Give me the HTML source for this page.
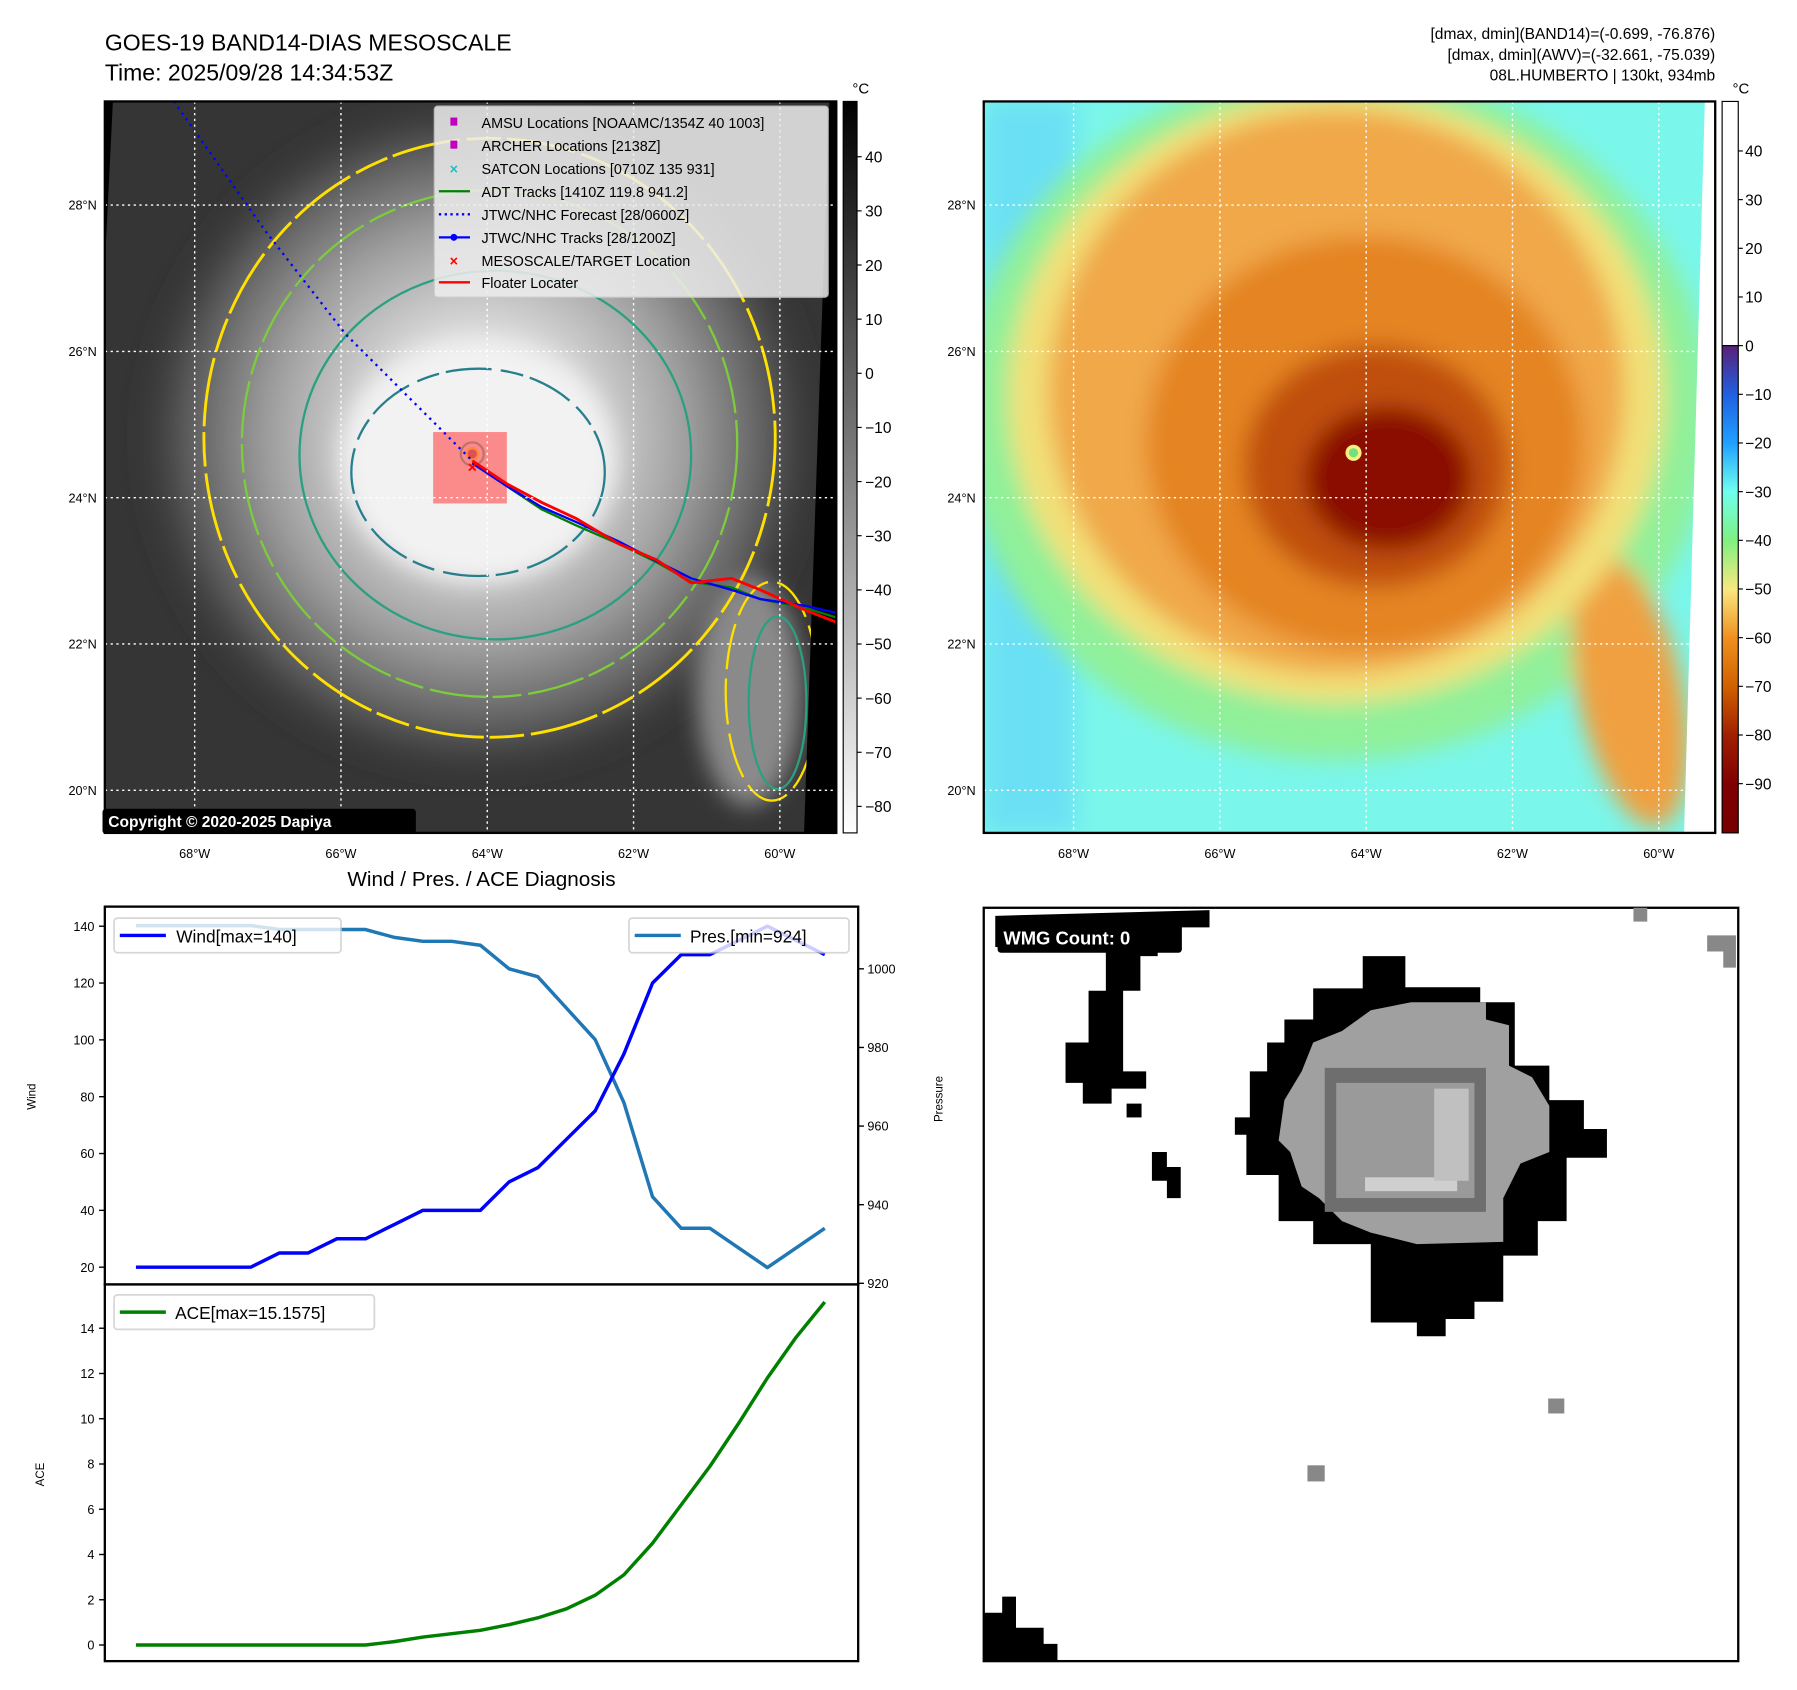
<!DOCTYPE html>
<html><head><meta charset="utf-8"><style>
html,body{margin:0;padding:0;background:#fff;}
svg{display:block;font-family:"Liberation Sans",sans-serif;}
</style></head><body>
<svg id="fig" width="1797" height="1690" viewBox="0 0 1560 1467" xmlns="http://www.w3.org/2000/svg">
<defs>
<filter id="blur8" x="-20%" y="-20%" width="140%" height="140%"><feGaussianBlur stdDeviation="10"/></filter>
<clipPath id="clipL"><rect x="91" y="88" width="635" height="635"/></clipPath>
<clipPath id="clipR"><rect x="854" y="88" width="635" height="635"/></clipPath>
<radialGradient id="cloudG" cx="0.5" cy="0.5" r="0.5">
<stop offset="0" stop-color="#f2f2f2"/><stop offset="0.3" stop-color="#dcdcdc"/><stop offset="0.6" stop-color="#a0a0a0"/><stop offset="0.85" stop-color="#5a5a5a"/><stop offset="1" stop-color="#3a3a3a" stop-opacity="0"/>
</radialGradient>
<linearGradient id="cbGray" x1="0" y1="0" x2="0" y2="1"><stop offset="0" stop-color="#000"/><stop offset="1" stop-color="#fff"/></linearGradient>
<linearGradient id="cbJet" x1="0" y1="0" x2="0" y2="1">
<stop offset="0" stop-color="#5a1f7a"/><stop offset="0.1" stop-color="#2060e0"/><stop offset="0.2" stop-color="#20a0ff"/><stop offset="0.3" stop-color="#70ffee"/><stop offset="0.4" stop-color="#80f080"/><stop offset="0.5" stop-color="#f8e880"/><stop offset="0.6" stop-color="#f09020"/><stop offset="0.7" stop-color="#d06000"/><stop offset="0.8" stop-color="#a02000"/><stop offset="0.9" stop-color="#800000"/><stop offset="1" stop-color="#780000"/>
</linearGradient>
</defs>

<text x="91" y="44" font-size="20">GOES-19 BAND14-DIAS MESOSCALE</text>
<text x="91" y="70" font-size="20">Time: 2025/09/28 14:34:53Z</text>
<g font-size="13.5" text-anchor="end">
<text x="1489" y="34">[dmax, dmin](BAND14)=(-0.699, -76.876)</text>
<text x="1489" y="52">[dmax, dmin](AWV)=(-32.661, -75.039)</text>
<text x="1489" y="70">08L.HUMBERTO | 130kt, 934mb</text>
</g>

<!-- LEFT MAP -->
<g clip-path="url(#clipL)">
<rect x="91" y="88" width="635" height="635" fill="#353535"/>
<ellipse cx="415" cy="380" rx="300" ry="300" fill="url(#cloudG)" filter="url(#blur8)"/>
<ellipse cx="415" cy="400" rx="120" ry="105" fill="#f2f2f2" filter="url(#blur8)"/>
<ellipse cx="650" cy="600" rx="45" ry="100" fill="#8a8a8a" filter="url(#blur8)"/>
<ellipse cx="425" cy="380" rx="248" ry="260" fill="none" stroke="#ffe000" stroke-width="2.5" stroke-dasharray="60 6 30 5"/>
<ellipse cx="425" cy="385" rx="215" ry="220" fill="none" stroke="#7ccc3c" stroke-width="2" stroke-dasharray="50 6 25 5"/>
<ellipse cx="430" cy="395" rx="170" ry="160" fill="none" stroke="#2aa080" stroke-width="2"/>
<ellipse cx="415" cy="410" rx="110" ry="90" fill="none" stroke="#277f8e" stroke-width="2" stroke-dasharray="40 8 20 6"/>
<ellipse cx="670" cy="600" rx="40" ry="95" fill="none" stroke="#ffe000" stroke-width="2" stroke-dasharray="40 8"/>
<ellipse cx="675" cy="610" rx="25" ry="75" fill="none" stroke="#2aa080" stroke-width="2"/>
<polygon points="91,88 98,88 91,230" fill="#000"/>
<polygon points="720,88 726,88 726,723 698,723" fill="#000"/>
<circle cx="410" cy="394" r="10" fill="none" stroke="#2aa080" stroke-width="2"/>
<circle cx="410" cy="394" r="6" fill="#ffe000"/><circle cx="410" cy="394" r="4" fill="#8a3030"/>
<rect x="376" y="375" width="64" height="62" fill="#ff6060" opacity="0.7"/>
<path d="M151,88 L230,200 L300,290 L350,340 L410,400" fill="none" stroke="#0000ff" stroke-width="2" stroke-dasharray="2 4"/>
<polyline points="410,402 440,422 470,442 500,456 537,472 570,488 600,505 635,510 660,520 700,528 726,536" fill="none" stroke="#008000" stroke-width="2"/>
<polyline points="410,402 440,422 470,440 500,453 537,470 570,487 600,502 635,512 660,520 700,526 726,532" fill="none" stroke="#0000ff" stroke-width="2"/>
<polyline points="410,400 440,420 470,436 500,450 537,472 570,486 600,506 635,502 660,512 700,530 726,540" fill="none" stroke="#ff0000" stroke-width="2.5"/>
<text x="410" y="410" fill="#f00" font-size="14" font-weight="bold" text-anchor="middle">×</text>
</g>
<g stroke="#fff" stroke-width="1.2" stroke-dasharray="2 3">
<line x1="169" y1="88" x2="169" y2="723"/><line x1="296" y1="88" x2="296" y2="723"/><line x1="423" y1="88" x2="423" y2="723"/><line x1="550" y1="88" x2="550" y2="723"/><line x1="677" y1="88" x2="677" y2="723"/>
<line x1="91" y1="178" x2="726" y2="178"/><line x1="91" y1="305" x2="726" y2="305"/><line x1="91" y1="432" x2="726" y2="432"/><line x1="91" y1="559" x2="726" y2="559"/><line x1="91" y1="686" x2="726" y2="686"/>
</g>
<rect x="91" y="88" width="635" height="635" fill="none" stroke="#000" stroke-width="2"/>
<g>
<rect x="377" y="92" width="342" height="166" rx="3" fill="#eee" opacity="0.85" stroke="#ccc"/>
<g font-size="12.5">
<rect x="391" y="102" width="6" height="7" fill="#c000c0"/><text x="418" y="111">AMSU Locations [NOAAMC/1354Z 40 1003]</text>
<rect x="391" y="122" width="6" height="7" fill="#c000c0"/><text x="418" y="131">ARCHER Locations [2138Z]</text>
<text x="394" y="151" fill="#20c0c0" text-anchor="middle" font-weight="bold">×</text><text x="418" y="151">SATCON Locations [0710Z 135 931]</text>
<line x1="381" y1="166" x2="408" y2="166" stroke="#008000" stroke-width="2"/><text x="418" y="171">ADT Tracks [1410Z 119.8 941.2]</text>
<line x1="381" y1="186" x2="408" y2="186" stroke="#00f" stroke-width="2" stroke-dasharray="2 3"/><text x="418" y="191">JTWC/NHC Forecast [28/0600Z]</text>
<line x1="381" y1="206" x2="408" y2="206" stroke="#00f" stroke-width="2"/><circle cx="394" cy="206" r="3" fill="#00f"/><text x="418" y="211">JTWC/NHC Tracks [28/1200Z]</text>
<text x="394" y="231" fill="#f00" text-anchor="middle" font-weight="bold">×</text><text x="418" y="231">MESOSCALE/TARGET Location</text>
<line x1="381" y1="245" x2="408" y2="245" stroke="#f00" stroke-width="2"/><text x="418" y="250">Floater Locater</text>
</g></g>
<rect x="89" y="702" width="272" height="22" rx="3" fill="#000"/>
<text x="94" y="718" fill="#fff" font-size="13.5" font-weight="bold">Copyright © 2020-2025 Dapiya</text>
<g font-size="11" text-anchor="end">
<text x="84" y="182">28°N</text><text x="84" y="309">26°N</text><text x="84" y="436">24°N</text><text x="84" y="563">22°N</text><text x="84" y="690">20°N</text></g>
<g font-size="11" text-anchor="middle">
<text x="169" y="745">68°W</text><text x="296" y="745">66°W</text><text x="423" y="745">64°W</text><text x="550" y="745">62°W</text><text x="677" y="745">60°W</text></g>
<rect x="732" y="88" width="12" height="635" fill="url(#cbGray)" stroke="#000"/>
<text x="740" y="81" font-size="13">°C</text>
<g id="cb1" font-size="13.5"></g>

<!-- RIGHT MAP -->
<g clip-path="url(#clipR)">
<rect x="854" y="88" width="635" height="635" fill="#7af6ea"/>
<rect x="854" y="88" width="80" height="635" fill="#6ae0f4" filter="url(#blur8)"/>
<g filter="url(#blur8)">
<ellipse cx="1160" cy="360" rx="325" ry="300" fill="#90f09a"/>
<ellipse cx="1415" cy="600" rx="45" ry="120" fill="#f0a040" transform="rotate(-12 1415 600)"/>
<ellipse cx="1160" cy="345" rx="285" ry="265" fill="#f2e078"/>
<ellipse cx="1160" cy="340" rx="250" ry="245" fill="#f0a84a"/>
<ellipse cx="1185" cy="385" rx="190" ry="180" fill="#e48424"/>
<ellipse cx="1195" cy="405" rx="115" ry="105" fill="#c05008"/>
<ellipse cx="1205" cy="415" rx="72" ry="62" fill="#8a0a00"/>
</g>
<circle cx="1175" cy="393" r="7" fill="#f8f080"/><circle cx="1175" cy="393" r="4" fill="#70e080"/>
<polygon points="1480,88 1489,88 1489,723 1462,723" fill="#fff"/>
</g>
<g stroke="#fff" stroke-width="1.2" stroke-dasharray="2 3">
<line x1="932" y1="88" x2="932" y2="723"/><line x1="1059" y1="88" x2="1059" y2="723"/><line x1="1186" y1="88" x2="1186" y2="723"/><line x1="1313" y1="88" x2="1313" y2="723"/><line x1="1440" y1="88" x2="1440" y2="723"/>
<line x1="854" y1="178" x2="1489" y2="178"/><line x1="854" y1="305" x2="1489" y2="305"/><line x1="854" y1="432" x2="1489" y2="432"/><line x1="854" y1="559" x2="1489" y2="559"/><line x1="854" y1="686" x2="1489" y2="686"/>
</g>
<rect x="854" y="88" width="635" height="635" fill="none" stroke="#000" stroke-width="2"/>
<g font-size="11" text-anchor="end">
<text x="847" y="182">28°N</text><text x="847" y="309">26°N</text><text x="847" y="436">24°N</text><text x="847" y="563">22°N</text><text x="847" y="690">20°N</text></g>
<g font-size="11" text-anchor="middle">
<text x="932" y="745">68°W</text><text x="1059" y="745">66°W</text><text x="1186" y="745">64°W</text><text x="1313" y="745">62°W</text><text x="1440" y="745">60°W</text></g>
<rect x="1495" y="88" width="14" height="212" fill="#fff" stroke="#000"/>
<rect x="1495" y="300" width="14" height="423" fill="url(#cbJet)" stroke="#000"/>
<text x="1504" y="81" font-size="13">°C</text>
<g id="cb2" font-size="13.5"></g>

<!-- CHART -->
<text x="418" y="769" font-size="18" text-anchor="middle">Wind / Pres. / ACE Diagnosis</text>
<rect x="91" y="787" width="654" height="328" fill="#fff" stroke="#000" stroke-width="2"/>
<rect x="91" y="1115" width="654" height="327" fill="#fff" stroke="#000" stroke-width="2"/>
<g id="chart"></g>
<text transform="translate(31,952) rotate(-90)" font-size="10" text-anchor="middle">Wind</text>
<text transform="translate(818,954) rotate(-90)" font-size="10" text-anchor="middle">Pressure</text>
<text transform="translate(38,1280) rotate(-90)" font-size="10" text-anchor="middle">ACE</text>
<g><rect x="99" y="797" width="197" height="30" rx="3" fill="#fff" opacity="0.8" stroke="#ccc" stroke-width="1.5"/>
<line x1="104" y1="812" x2="144" y2="812" stroke="#00f" stroke-width="3"/><text x="153" y="818" font-size="15">Wind[max=140]</text></g>
<g><rect x="546" y="797" width="191" height="30" rx="3" fill="#fff" opacity="0.8" stroke="#ccc" stroke-width="1.5"/>
<line x1="551" y1="812" x2="591" y2="812" stroke="#1f77b4" stroke-width="3"/><text x="599" y="818" font-size="15">Pres.[min=924]</text></g>
<g><rect x="99" y="1124" width="226" height="30" rx="3" fill="#fff" opacity="0.8" stroke="#ccc" stroke-width="1.5"/>
<line x1="104" y1="1139" x2="144" y2="1139" stroke="#008000" stroke-width="3"/><text x="152" y="1145" font-size="15">ACE[max=15.1575]</text></g>

<!-- WMG -->
<g>
<rect x="854" y="788" width="655" height="654" fill="#fff" stroke="#000" stroke-width="2"/>
<polygon points="1183,830 1220,830 1220,857 1285,857 1285,870 1315,870 1315,925 1345,925 1345,955 1375,955 1375,980 1395,980 1395,1005 1360,1005 1360,1060 1335,1060 1335,1090 1305,1090 1305,1130 1280,1130 1280,1145 1255,1145 1255,1160 1230,1160 1230,1148 1190,1148 1190,1080 1140,1080 1140,1060 1110,1060 1110,1020 1082,1020 1082,985 1072,985 1072,970 1085,970 1085,930 1100,930 1100,905 1115,905 1115,885 1140,885 1140,858 1183,858" fill="#000"/>
<polygon points="1165,895 1190,877 1225,870 1290,870 1290,885 1310,890 1310,925 1330,935 1345,960 1345,1000 1320,1010 1305,1040 1305,1078 1230,1080 1190,1070 1165,1060 1145,1040 1130,1030 1120,1000 1110,990 1115,955 1130,930 1140,905" fill="#a0a0a0"/>
<rect x="1150" y="927" width="140" height="125" fill="#6e6e6e"/>
<rect x="1160" y="940" width="120" height="100" fill="#9a9a9a"/>
<rect x="1185" y="1022" width="80" height="12" fill="#cfcfcf"/>
<rect x="1245" y="945" width="30" height="80" fill="#c0c0c0"/>
<polygon points="864,795 1050,790 1050,805 1005,805 1005,830 990,830 990,860 975,860 975,930 995,930 995,945 965,945 965,958 940,958 940,940 925,940 925,905 945,905 945,860 960,860 960,822 864,822" fill="#000"/>
<rect x="978" y="958" width="13" height="12" fill="#000"/>
<polygon points="1000,1000 1013,1000 1013,1013 1025,1013 1025,1040 1013,1040 1013,1025 1000,1025" fill="#000"/>
<polygon points="854,1400 870,1400 870,1386 882,1386 882,1413 906,1413 906,1427 918,1427 918,1442 854,1442" fill="#000"/>
<rect x="1418" y="788" width="12" height="12" fill="#888"/>
<polygon points="1482,812 1507,812 1507,840 1496,840 1496,826 1482,826" fill="#888"/>
<rect x="1344" y="1214" width="14" height="13" fill="#888"/>
<rect x="1135" y="1272" width="15" height="14" fill="#888"/>
<rect x="866" y="800" width="160" height="27" rx="3" fill="#000"/>
<text x="871" y="820" fill="#fff" font-size="16" font-weight="bold">WMG Count: 0</text>
</g>
</svg>
<script>
const categories=[0,1,2,3,4,5,6,7,8,9,10,11,12,13,14,15,16,17,18,19,20,21,22,23,24];
const windValues=[20,20,20,20,20,25,25,30,30,35,40,40,40,50,55,65,75,95,120,130,130,135,140,135,130];
const presValues=[1011,1011,1011,1011,1011,1010,1010,1010,1010,1008,1007,1007,1006,1000,998,990,982,966,942,934,934,929,924,929,934];
const aceValues=[0,0,0,0,0,0,0,0,0,0.15,0.35,0.5,0.65,0.9,1.2,1.6,2.2,3.1,4.5,6.2,7.9,9.8,11.8,13.6,15.16];
const windTicks=[20,40,60,80,100,120,140];
const presTicks=[920,940,960,980,1000];
const aceTicks=[0,2,4,6,8,10,12,14];
const cb1Ticks=[40,30,20,10,0,-10,-20,-30,-40,-50,-60,-70,-80];
const cb2Ticks=[40,30,20,10,0,-10,-20,-30,-40,-50,-60,-70,-80,-90];
const NS='http://www.w3.org/2000/svg';
const xS=i=>118+i*(716-118)/24;
const wS=v=>1100-(v-20)*(1100-804)/120;
const pS=v=>1114-(v-920)*(1114-841)/80;
const aS=v=>1428-v*(1428-1153)/14;
const c1S=v=>324-v*4.7;
const c2S=v=>300-v*4.225;
function mk(tag,attrs,parent){const e=document.createElementNS(NS,tag);for(const k in attrs)e.setAttribute(k,attrs[k]);parent.appendChild(e);return e;}
const chart=document.getElementById('chart');
function fmt(v){return v<0?'\u2212'+(-v):''+v;}
windTicks.forEach(v=>{const y=wS(v);mk('line',{x1:86,y1:y,x2:91,y2:y,stroke:'#000','stroke-width':1.2},chart);const t=mk('text',{x:82,y:y+4,'font-size':11,'text-anchor':'end'},chart);t.textContent=v;

});
presTicks.forEach(v=>{const y=pS(v);mk('line',{x1:745,y1:y,x2:750,y2:y,stroke:'#000','stroke-width':1.2},chart);const t=mk('text',{x:753,y:y+4,'font-size':11},chart);t.textContent=v;

});
aceTicks.forEach(v=>{const y=aS(v);mk('line',{x1:86,y1:y,x2:91,y2:y,stroke:'#000','stroke-width':1.2},chart);const t=mk('text',{x:82,y:y+4,'font-size':11,'text-anchor':'end'},chart);t.textContent=v;

});
function line(vals,sc,color,name){const p=mk('polyline',{points:vals.map((v,i)=>xS(categories[i])+','+sc(v)).join(' '),fill:'none',stroke:color,'stroke-width':3,'stroke-linejoin':'round'},chart);

}
line(presValues,pS,'#1f77b4','pressure-line');
line(windValues,wS,'#0000ff','wind-line');
line(aceValues,aS,'#008000','ace-line');
const cb1=document.getElementById('cb1');
cb1Ticks.forEach(v=>{const y=c1S(v);mk('line',{x1:744,y1:y,x2:748,y2:y,stroke:'#000'},cb1);const t=mk('text',{x:751,y:y+5},cb1);t.textContent=fmt(v);

});
const cb2=document.getElementById('cb2');
cb2Ticks.forEach(v=>{const y=c2S(v);mk('line',{x1:1509,y1:y,x2:1513,y2:y,stroke:'#000'},cb2);const t=mk('text',{x:1515,y:y+5},cb2);t.textContent=fmt(v);

});
</script>
</body></html>
